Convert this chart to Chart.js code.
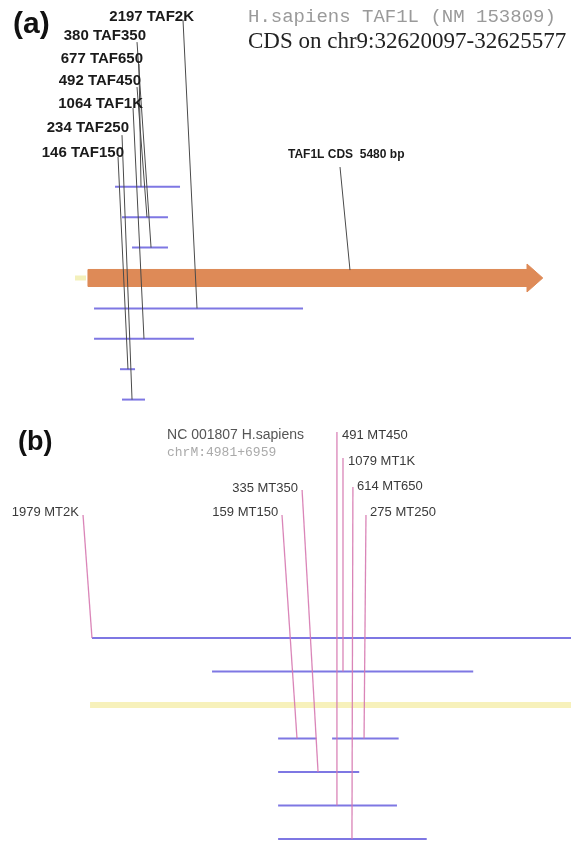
<!DOCTYPE html>
<html>
<head>
<meta charset="utf-8">
<script src="https://cdn.jsdelivr.net/npm/chart.js@4"></script>
<style>
  body { margin: 0; background: #fff; }
  #wrap { position: relative; width: 571px; height: 841px; }
  canvas { position: absolute; left: 0; }
  #chartA { top: 0; }
  #chartB { top: 415px; }
</style>
</head>
<body>
<div id="wrap">
  <canvas id="chartA" width="571" height="415"></canvas>
  <canvas id="chartB" width="571" height="426"></canvas>
</div>
<script>
"use strict";

// (a) TAF1L CDS, x = bp from CDS start, y = track row (0 = CDS arrow)
const cdsLength = 5480;
const cdsHeadStart = 5290;
const tafNames = ["TAF2K", "TAF1K", "TAF650", "TAF450", "TAF350", "TAF250", "TAF150"];
const tafSizes = [2197, 1064, 677, 492, 380, 234, 146];
const tafStart = [73, 73, 326, 410, 531, 410, 386];
const tafEnd = [2591, 1278, 1109, 964, 964, 687, 567];
const tafRow = [1, 2, -3, -2, -1, 4, 3];
// label (right edge) and leader line ends
const tafLabelX = [1278, 663, 663, 639, 699, 494, 434];
const tafLabelRow = [-8.59, -5.72, -7.20, -6.48, -7.96, -4.93, -4.11];
const tafLeadTopX = [1145, 543, 615, 591, 591, 410, 362];
const tafLeadTopRow = [-8.49, -5.59, -7.04, -6.28, -7.76, -4.70, -3.98];
const tafLeadEndX = [1314, 675, 639, 711, 760, 531, 482];

// (b) chrM 4981-6959, x = chrM position, y = track row (0 = yellow band)
const mtNames = ["MT2K", "MT1K", "MT150", "MT250", "MT350", "MT450", "MT650"];
const mtSizes = [1979, 1079, 159, 275, 335, 491, 614];
const mtStart = [4981, 5477, 5750, 5973, 5750, 5750, 5750];
const mtRow = [-2, -1, 1, 1, 2, 3, 4];
const mtLabelX = [4927, 6039, 5750, 6130, 5832, 6014, 6076];
const mtLabelRow = [-5.76, -7.28, -5.76, -5.76, -6.48, -8.06, -6.51];
const mtLabelAlign = ["right", "left", "right", "left", "right", "left", "left"];
const mtLeadTopX = [4944, 6018, 5766, 6113, 5849, 5993, 6059];
const mtLeadTopRow = [-5.67, -7.37, -5.67, -5.67, -6.42, -8.15, -6.51];
const mtLeadEndX = [4981, 6018, 5828, 6105, 5915, 5993, 6055];
const chrMStart = 4973;
const chrMEnd = 6960;

const SEG = "rgba(112,104,224,0.9)";

function line(pts, color, width, order) {
  return {
    data: pts.map(p => ({ x: p[0], y: p[1] })),
    showLine: true, borderColor: color, borderWidth: width,
    pointRadius: 0, fill: false, order: order
  };
}

function textPlugin(items) {
  return {
    id: "texts",
    afterDatasetsDraw(chart) {
      const { ctx, scales: { x, y } } = chart;
      ctx.save();
      ctx.textBaseline = "middle";
      items.forEach(t => {
        ctx.font = t.font;
        ctx.fillStyle = t.color;
        ctx.textAlign = t.align || "left";
        ctx.fillText(t.text, x.getPixelForValue(t.x), y.getPixelForValue(t.y));
      });
      ctx.restore();
    }
  };
}

function options(xmin, xmax, ymin, ymax) {
  return {
    responsive: false,
    animation: false,
    events: [],
    layout: { padding: 0 },
    plugins: { legend: { display: false }, tooltip: { enabled: false } },
    scales: {
      x: { type: "linear", display: false, min: xmin, max: xmax },
      y: { type: "linear", display: false, min: ymin, max: ymax, reverse: true }
    }
  };
}

// ---- panel (a)
const dsA = [];
tafNames.forEach((n, i) => {
  dsA.push(line([[tafLeadTopX[i], tafLeadTopRow[i]], [tafLeadEndX[i], tafRow[i]]], "#4a4a4a", 1, 0));
  dsA.push(line([[tafStart[i], tafRow[i]], [tafEnd[i], tafRow[i]]], SEG, 2, 1));
});
dsA.push(line([[3037, -3.65], [3157, -0.26]], "#4a4a4a", 1, 0));
dsA.push(line([[-156, 0], [-24, 0]], "rgba(240,236,170,0.8)", 5, 3));
dsA.push({
  data: [[0, -0.28], [cdsHeadStart, -0.28], [cdsHeadStart, -0.46], [cdsLength, 0],
         [cdsHeadStart, 0.46], [cdsHeadStart, 0.28], [0, 0.28], [0, -0.28]].map(p => ({ x: p[0], y: p[1] })),
  showLine: true, borderColor: "#de8a57", borderWidth: 1, backgroundColor: "#de8a57",
  pointRadius: 0, fill: "shape", order: 2
});

const textsA = tafNames.map((n, i) => ({
  text: tafSizes[i] + " " + n, x: tafLabelX[i], y: tafLabelRow[i], align: "right",
  font: "bold 15px 'Liberation Sans', Arial, sans-serif", color: "#1a1a1a"
}));
textsA.push({ text: "TAF1L CDS  " + cdsLength + " bp", x: 2410, y: -4.05,
  font: "bold 12px 'Liberation Sans', Arial, sans-serif", color: "#1a1a1a" });
textsA.push({ text: "(a)", x: -903, y: -8.32,
  font: "bold 30px 'Liberation Sans', Arial, sans-serif", color: "#111" });
textsA.push({ text: "H.sapiens TAF1L (NM 153809)", x: 1928, y: -8.59,
  font: "19px 'Liberation Mono', 'Courier New', monospace", color: "#9a9a9a" });
textsA.push({ text: "CDS on chr9:32620097-32625577", x: 1928, y: -7.76,
  font: "23px 'Liberation Serif', 'Times New Roman', serif", color: "#222" });

new Chart(document.getElementById("chartA"), {
  type: "scatter",
  data: { datasets: dsA },
  options: options(-1060, 5820, -9.145, 4.507),
  plugins: [textPlugin(textsA)]
});

// ---- panel (b)
const dsB = [];
mtNames.forEach((n, i) => {
  dsB.push(line([[mtLeadTopX[i], mtLeadTopRow[i]], [mtLeadEndX[i], mtRow[i]]], "rgba(214,120,176,0.9)", 1.3, 0));
  dsB.push(line([[mtStart[i], mtRow[i]], [mtStart[i] + mtSizes[i], mtRow[i]]], SEG, 2, 1));
});
dsB.push(line([[chrMStart, 0], [chrMEnd, 0]], "rgba(246,240,180,0.9)", 6, 3));

const textsB = mtNames.map((n, i) => ({
  text: mtSizes[i] + " " + n, x: mtLabelX[i], y: mtLabelRow[i], align: mtLabelAlign[i],
  font: "13px 'Liberation Sans', Arial, sans-serif", color: "#3a3a3a"
}));
textsB.push({ text: "(b)", x: 4675, y: -7.82,
  font: "bold 27px 'Liberation Sans', Arial, sans-serif", color: "#111" });
textsB.push({ text: "NC 001807 H.sapiens", x: 5291, y: -8.06,
  font: "14px 'Liberation Sans', Arial, sans-serif", color: "#555" });
textsB.push({ text: "chrM:4981+6959", x: 5291, y: -7.55,
  font: "13px 'Liberation Mono', 'Courier New', monospace", color: "#aaa" });

new Chart(document.getElementById("chartB"), {
  type: "scatter",
  data: { datasets: dsB },
  options: options(4601, 6960, -8.657, 4.06),
  plugins: [textPlugin(textsB)]
});
</script>
</body>
</html>
